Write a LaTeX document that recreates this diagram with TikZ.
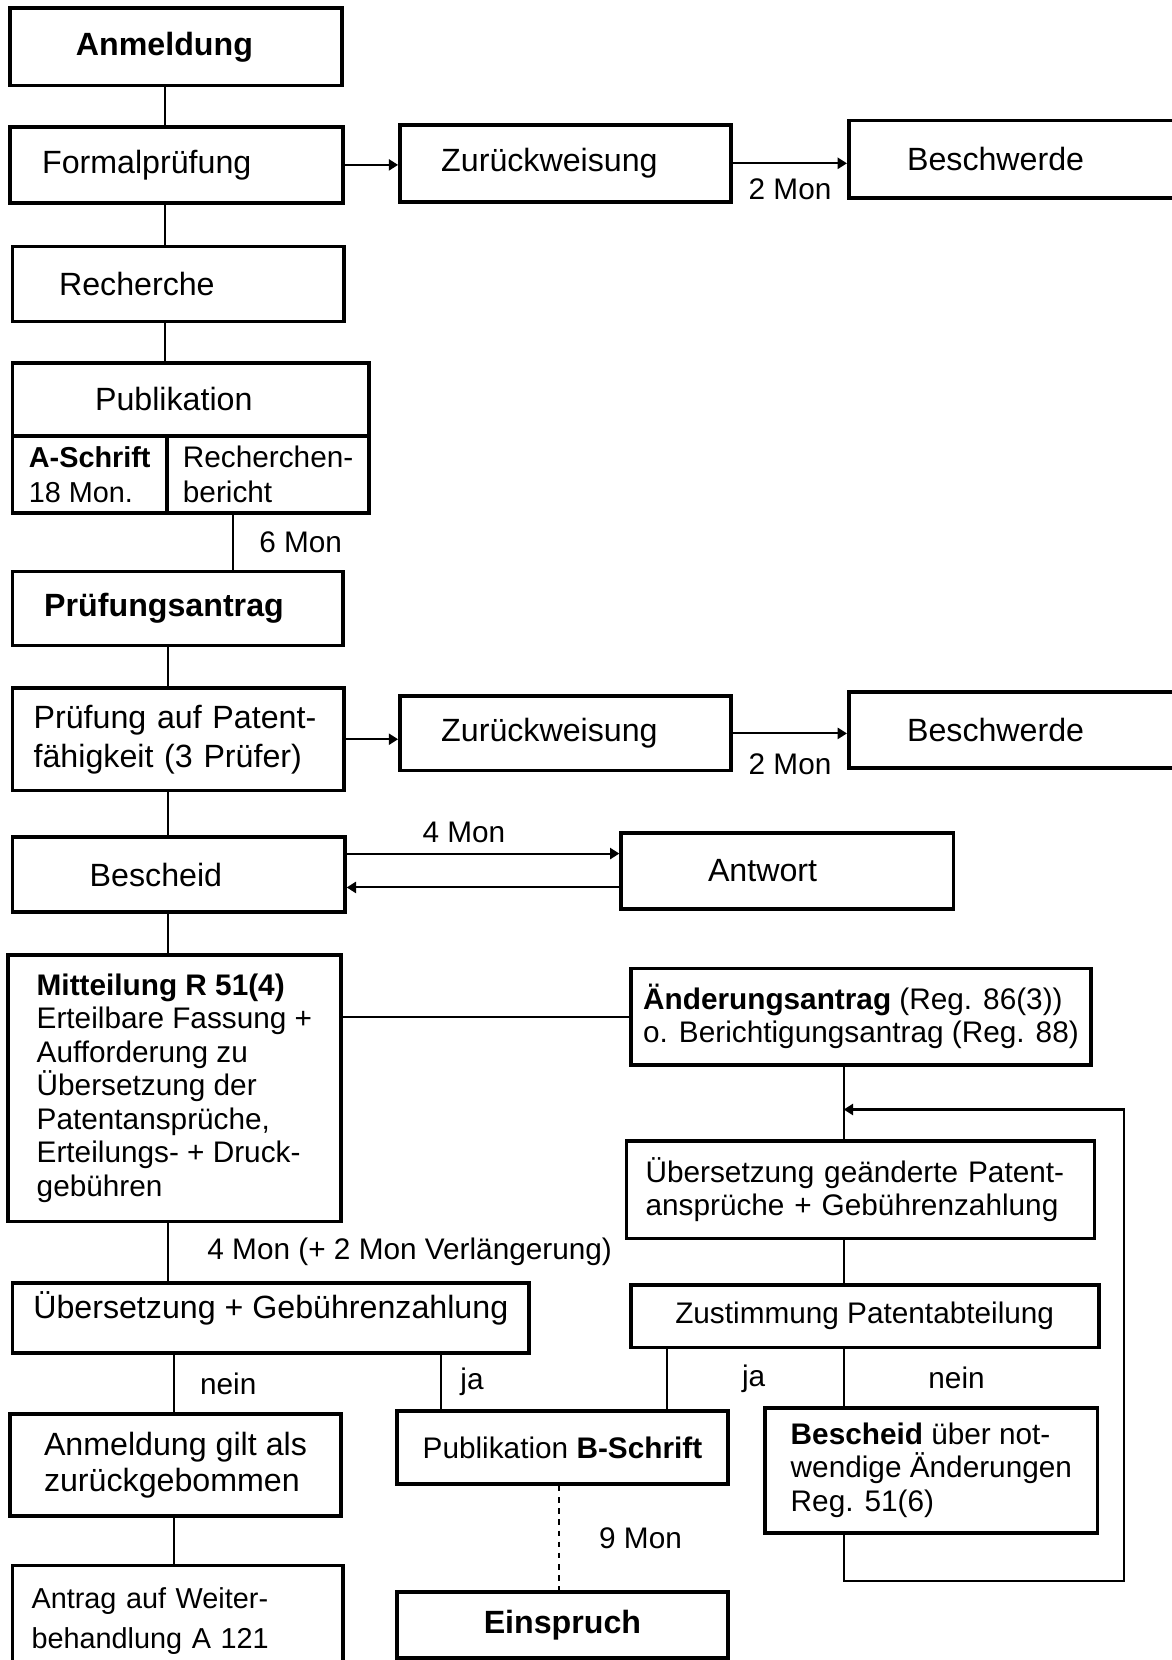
\documentclass[tikz,border=0pt]{standalone}
\usepackage{fontspec}
\setmainfont{Liberation Sans}
\usetikzlibrary{arrows.meta,calc}
\tikzset{
  box/.style={draw, line width=2pt, anchor=north west, align=left, inner sep=0pt},
  wh/.style 2 args={minimum width=#1*0.02cm, minimum height=#2*0.02cm},
  big/.style={font=\fontsize{17.3}{19.5}\selectfont},
  small/.style={font=\fontsize{16}{18}\selectfont},
  lbl/.style={inner sep=0pt, font=\fontsize{16}{18}\selectfont},
  conn/.style={line width=1.1pt},
}

\begin{document}
\begin{tikzpicture}[x=0.02cm, y=-0.02cm, >={Triangle[length=5pt,width=6pt]}]
                \useasboundingbox (0,0) rectangle (1107,1568);
                \clip (0,0) rectangle (1107,1568);
                \fill[white] (0,0) rectangle (1107,1568);
                % left column
                \node[box, big, wh={313}{73}, text width=3.78cm, inner xsep=1.24cm] (anm) at (8,6) {\textbf{Anmeldung}};
                \node[box, big, wh={314}{72}, text width=5.08cm, inner xsep=0.6cm] (form) at (8,118) {Formalprüfung};
                \node[box, big, wh={313}{71}, text width=4.50cm, inner xsep=0.88cm] (rech) at (10,231) {Recherche};
                \node[box, big, wh={337}{69}, text width=3.62cm, inner xsep=1.56cm] (pubtop) at (10,341) {Publikation};
                \node[box, font=\fontsize{15.5}{18.8}\selectfont, wh={146}{73}] (aschr) at (10,410) {\textbf{A-Schrift}\\18 Mon.};
                \node[box, font=\fontsize{16}{18.8}\selectfont, wh={191}{73}] (rber) at (156,410) {Recherchen-\\bericht};
                \node[box, big, wh={312}{70}, text width=5.04cm, inner xsep=0.6cm] (pa) at (10,538) {\textbf{Prüfungsantrag}};
                \node[box, big, wh={313}{97}, text width=5.46cm, inner xsep=0.4cm] (prf) at (10,648) {Prüfung auf Patent-\\[1.5pt]fähigkeit (3 Prüfer)};
                \node[box, big, wh={314}{71}, text width=3.36cm, inner xsep=1.46cm] (besch) at (10,789) {Bescheid};
                \node[box, small, wh={314}{252}] (mitt) at (6,900) {\textbf{Mitteilung R 51(4)}\\Erteilbare Fassung +\\Aufforderung zu\\Übersetzung der\\Patentansprüche,\\Erteilungs- + Druck-\\gebühren};
                \node[box, big, wh={488}{66}] (ueb) at (10,1210) {Übersetzung + Gebührenzahlung\\[-6pt]};
                \node[box, big, wh={312}{96}] (agilt) at (8,1334) {Anmeldung gilt als\\zurückgebommen};
                \node[box, font=\fontsize{15.5}{21.6}\selectfont, wh={312}{105}, text width=5.52cm, inner xsep=0.36cm] (antr) at (10,1477) {Antrag auf Weiter-\\behandlung A 121};
                % right side
                \node[box, big, wh={313}{73}, text width=4.70cm, inner xsep=0.78cm] (zur1) at (376,116) {Zurückweisung};
                \node[box, big, wh={400}{73}, text width=5.80cm, inner xsep=1.10cm] (bes1) at (800,112) {Beschwerde};
                \node[box, big, wh={313}{70}, text width=4.70cm, inner xsep=0.78cm] (zur2) at (376,656) {Zurückweisung};
                \node[box, big, wh={400}{72}, text width=5.80cm, inner xsep=1.10cm] (bes2) at (800,652) {Beschwerde};
                \node[box, big, wh={314}{72}, text width=3.00cm, inner xsep=1.64cm] (antw) at (585,785) {Antwort};
                \node[box, small, wh={435}{91}] (aend) at (594,913) {\textbf{Änderungsantrag} (Reg. 86(3))\\o. Berichtigungsantrag (Reg. 88)};
                \node[box, small, wh={442}{92}, text width=8.12cm, inner xsep=0.36cm] (uebg) at (590,1076) {Übersetzung geänderte Patent-\\ansprüche + Gebührenzahlung};
                \node[box, small, wh={442}{59}] (zust) at (594,1212) {Zustimmung Patentabteilung};
                \node[box, small, wh={313}{69}] (pubb) at (373,1331) {Publikation \textbf{B-Schrift}};
                \node[box, small, wh={314}{118}] (bnot) at (721,1328) {\textbf{Bescheid} über not-\\wendige Änderungen\\Reg. 51(6)};
                \node[box, big, wh={313}{62}] (einsp) at (373,1502) {\textbf{Einspruch}};

                \coordinate (sA) at (156,0);
                \coordinate (sB) at (159,0);
                \coordinate (sC) at (164,0);
                \coordinate (xr) at (220,0);
                \coordinate (xj) at (417,0);
                \coordinate (xd) at (528,0);
                \coordinate (xz) at (630,0);
                \coordinate (xs) at (797,0);
                \coordinate (lp) at (1062,1493);
                \coordinate (ret) at (797,1048);
                \coordinate (ba) at ($(besch.east)+(0,-20)$);
                \coordinate (ab) at ($(besch.east)+(0,12)$);

                \draw[conn] (anm.south -| sA) -- (form.north -| sA);
                \draw[conn] (form.south -| sA) -- (rech.north -| sA);
                \draw[conn] (rech.south -| sA) -- (pubtop.north -| sA);
                \draw[conn] (rber.south -| xr) -- node[lbl, right=0.48cm] (l6) {6 Mon} (pa.north -| xr);
                \draw[conn] (pa.south -| sB) -- (prf.north -| sB);
                \draw[conn] (prf.south -| sB) -- (besch.north -| sB);
                \draw[conn] (besch.south -| sB) -- (mitt.north -| sB);
                \draw[conn] (mitt.south -| sB) -- node[lbl, right=0.72cm] (l4v) {4 Mon (+ 2 Mon Verlängerung)} (ueb.north -| sB);
                \draw[conn] (ueb.south -| sC) -- node[lbl, right=0.48cm] (lnein) {nein} (agilt.north -| sC);
                \draw[conn] (ueb.south -| xj) -- node[lbl, right=0.34cm] (lja) {ja} (pubb.north -| xj);
                \draw[conn] (agilt.south -| sC) -- (antr.north -| sC);
                \draw[conn, dashed] (pubb.south -| xd) -- node[lbl, right=0.74cm] (l9) {9 Mon} (einsp.north -| xd);

                \draw[conn,->] (form.east) -- (form.east -| zur1.west);
                \draw[conn,->] (zur1.east) -- node[lbl, below=8pt] (l2a) {2 Mon} (zur1.east -| bes1.west);
                \draw[conn,->] (prf.east) -- (prf.east -| zur2.west);
                \draw[conn,->] (zur2.east) -- node[lbl, below=10.5pt] (l2b) {2 Mon} (zur2.east -| bes2.west);
                \draw[conn,->] (ba) -- node[lbl, above=5.4pt, pos=0.43] (l4) {4 Mon} (ba -| antw.west);
                \draw[conn,->] (ab -| antw.west) -- (ab);

                \draw[conn] (mitt.east |- aend.west) -- (aend.west);
                \draw[conn] (aend.south -| xs) -- (uebg.north -| xs);
                \draw[conn] (uebg.south -| xs) -- (zust.north -| xs);
                \draw[conn] (zust.south -| xz) -- node[lbl, right=1.4cm] (lja2) {ja} (pubb.north -| xz);
                \draw[conn] (zust.south -| xs) -- node[lbl, right=1.58cm] (lnein2) {nein} (bnot.north -| xs);
                \draw[conn,->] (bnot.south -| xs) |- (lp) |- (ret);
            \end{tikzpicture}
\end{document}
